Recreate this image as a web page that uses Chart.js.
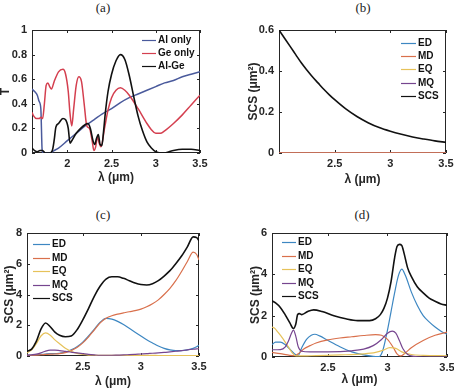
<!DOCTYPE html>
<html>
<head>
<meta charset="utf-8">
<script src="https://cdn.jsdelivr.net/npm/chart.js@4"></script>
<style>
  html, body { margin: 0; padding: 0; background: #fff; width: 454px; height: 388px; overflow: hidden; position: relative; }
  canvas { position: absolute; }
  .tag { position: absolute; transform: translate(-50%, -50%); font-family: "Liberation Serif", "DejaVu Serif", serif; font-size: 13px; color: #222; }
</style>
</head>
<body>
<div class="tag" style="left:103px;top:8px">(a)</div>
<div class="tag" style="left:363px;top:8px">(b)</div>
<div class="tag" style="left:103px;top:215px">(c)</div>
<div class="tag" style="left:362px;top:215px">(d)</div>
<canvas id="chartA" style="left:0;top:0;width:227px;height:190px" width="227" height="190"></canvas>
<canvas id="chartB" style="left:227px;top:0;width:237px;height:190px" width="237" height="190"></canvas>
<canvas id="chartC" style="left:0;top:190px;width:227px;height:198px" width="227" height="198"></canvas>
<canvas id="chartD" style="left:227px;top:190px;width:237px;height:198px" width="237" height="198"></canvas>
<script>
// ---- panel (a): transmission
const aTicksX = [2, 2.5, 3, 3.5];
const aTicksY = [0, 0.2, 0.4, 0.6, 0.8, 1];
const alOnlyX = [1.6, 1.63, 1.66, 1.68, 1.7, 1.715, 1.73, 1.8, 1.85, 1.9, 2.0, 2.1, 2.2, 2.3, 2.4, 2.5, 2.6, 2.7, 2.8, 2.9, 3.0, 3.1, 3.2, 3.3, 3.4, 3.5];
const alOnlyY = [0.52, 0.5, 0.47, 0.42, 0.36, 0.02, 0.0, 0.0, 0.02, 0.04, 0.1, 0.16, 0.22, 0.27, 0.32, 0.36, 0.41, 0.45, 0.48, 0.51, 0.54, 0.57, 0.59, 0.62, 0.64, 0.66];
const geOnlyX = [1.6, 1.62, 1.65, 1.68, 1.7, 1.72, 1.74, 1.76, 1.78, 1.8, 1.82, 1.85, 1.9, 1.95, 1.98, 2.01, 2.03, 2.05, 2.07, 2.1, 2.13, 2.16, 2.19, 2.22, 2.25, 2.28, 2.3, 2.32, 2.34, 2.36, 2.38, 2.42, 2.46, 2.5, 2.55, 2.6, 2.65, 2.7, 2.8, 2.9, 2.95, 3.0, 3.05, 3.1, 3.2, 3.3, 3.4, 3.5];
const geOnlyY = [0.33, 0.3, 0.28, 0.28, 0.29, 0.28, 0.4, 0.55, 0.57, 0.54, 0.52, 0.58, 0.66, 0.68, 0.64, 0.5, 0.32, 0.22, 0.35, 0.55, 0.62, 0.58, 0.4, 0.22, 0.2, 0.1, 0.02, 0.05, 0.13, 0.08, 0.05, 0.2, 0.35, 0.45, 0.51, 0.53, 0.51, 0.47, 0.36, 0.24, 0.19, 0.16, 0.16, 0.18, 0.24, 0.31, 0.39, 0.47];
const alGeX = [1.6, 1.63, 1.66, 1.69, 1.72, 1.75, 1.8, 1.83, 1.85, 1.87, 1.9, 1.95, 1.98, 2.01, 2.03, 2.05, 2.1, 2.15, 2.2, 2.23, 2.26, 2.29, 2.31, 2.33, 2.35, 2.37, 2.39, 2.41, 2.43, 2.46, 2.5, 2.55, 2.6, 2.65, 2.7, 2.75, 2.8, 2.85, 2.9, 2.95, 3.0, 3.05, 3.1, 3.15, 3.2, 3.3, 3.4, 3.5];
const alGeY = [0.04, 0.02, 0.01, 0.02, 0.02, 0.0, 0.0, 0.02, 0.1, 0.21, 0.24, 0.28, 0.27, 0.2, 0.08, 0.1, 0.16, 0.2, 0.23, 0.24, 0.2, 0.1, 0.07, 0.12, 0.15, 0.07, 0.06, 0.18, 0.33, 0.5, 0.64, 0.75, 0.8, 0.76, 0.63, 0.46, 0.3, 0.18, 0.09, 0.04, 0.01, 0.0, 0.0, 0.01, 0.02, 0.03, 0.03, 0.02];

// ---- panel (b)
const bTicksX = [2.5, 3, 3.5];
const bTicksY = [0, 0.2, 0.4, 0.6];
const bX = [2.0, 2.05, 2.1, 2.15, 2.2, 2.25, 2.3, 2.35, 2.4, 2.45, 2.5, 2.6, 2.7, 2.8, 2.9, 3.0, 3.1, 3.2, 3.3, 3.4, 3.5];
const bScs = [0.6, 0.56, 0.52, 0.48, 0.44, 0.405, 0.372, 0.342, 0.312, 0.285, 0.26, 0.215, 0.178, 0.148, 0.124, 0.106, 0.091, 0.078, 0.068, 0.059, 0.052];
const bZeroX = [2.0, 3.5];
const bZero = [0, 0];

// ---- panel (c)
const cTicksX = [2.5, 3, 3.5];
const cTicksY = [0, 2, 4, 6, 8];
const cX = [2.02, 2.06, 2.1, 2.14, 2.18, 2.22, 2.26, 2.3, 2.35, 2.4, 2.45, 2.5, 2.55, 2.6, 2.65, 2.7, 2.75, 2.8, 2.85, 2.9, 2.95, 3.0, 3.05, 3.1, 3.15, 3.2, 3.25, 3.3, 3.35, 3.4, 3.45, 3.48, 3.5];
const cScs = [0.3, 0.45, 0.95, 1.75, 2.15, 1.9, 1.55, 1.35, 1.25, 1.3, 1.7, 2.35, 3.1, 3.9, 4.55, 5.0, 5.15, 5.15, 5.05, 4.9, 4.75, 4.65, 4.62, 4.7, 4.9, 5.2, 5.55, 6.0, 6.5, 7.1, 7.75, 7.7, 7.5];
const cEd = [0.05, 0.06, 0.08, 0.1, 0.13, 0.15, 0.15, 0.18, 0.25, 0.4, 0.6, 0.9, 1.3, 1.75, 2.2, 2.45, 2.4, 2.25, 2.05, 1.8, 1.55, 1.3, 1.05, 0.85, 0.65, 0.5, 0.4, 0.35, 0.35, 0.4, 0.5, 0.6, 0.7];
const cMd = [0.05, 0.05, 0.06, 0.08, 0.1, 0.12, 0.13, 0.15, 0.22, 0.35, 0.55, 0.85, 1.25, 1.7, 2.15, 2.45, 2.62, 2.72, 2.8, 2.88, 2.95, 3.05, 3.2, 3.4, 3.65, 4.0, 4.4, 4.9, 5.5, 6.15, 6.75, 6.6, 6.25];
const cEq = [0.2, 0.4, 0.8, 1.3, 1.5, 1.35, 1.05, 0.8, 0.5, 0.3, 0.17, 0.1, 0.06, 0.05, 0.04, 0.04, 0.04, 0.04, 0.04, 0.04, 0.04, 0.04, 0.04, 0.04, 0.03, 0.03, 0.03, 0.03, 0.03, 0.03, 0.03, 0.03, 0.03];
const cMq = [0.05, 0.08, 0.12, 0.2, 0.32, 0.38, 0.38, 0.35, 0.3, 0.25, 0.2, 0.15, 0.1, 0.07, 0.05, 0.05, 0.05, 0.06, 0.07, 0.09, 0.11, 0.13, 0.15, 0.18, 0.2, 0.23, 0.27, 0.31, 0.35, 0.4, 0.44, 0.46, 0.48];

// ---- panel (d)
const dTicksX = [2.5, 3, 3.5];
const dTicksY = [0, 2, 4, 6];
const dScsX = [2.03, 2.06, 2.1, 2.14, 2.18, 2.21, 2.23, 2.245, 2.26, 2.28, 2.33, 2.38, 2.45, 2.55, 2.65, 2.75, 2.85, 2.9, 2.94, 2.97, 3.0, 3.03, 3.06, 3.08, 3.1, 3.12, 3.14, 3.17, 3.2, 3.25, 3.3, 3.35, 3.4, 3.45, 3.5];
const dScs = [2.72, 2.62, 2.4, 2.05, 1.65, 1.38, 1.6, 2.05, 2.1, 2.05, 2.2, 2.28, 2.2, 2.0, 1.85, 1.76, 1.76, 1.85, 2.05, 2.35, 2.85, 3.65, 4.8, 5.35, 5.45, 5.4, 5.0, 4.3, 3.9, 3.4, 3.1, 2.85, 2.7, 2.57, 2.5];
const dEdX = [2.03, 2.06, 2.1, 2.14, 2.18, 2.22, 2.25, 2.28, 2.32, 2.36, 2.39, 2.43, 2.5, 2.6, 2.7, 2.8, 2.88, 2.93, 2.96, 3.0, 3.03, 3.06, 3.09, 3.12, 3.15, 3.2, 3.25, 3.3, 3.35, 3.4, 3.45, 3.5];
const dEd = [0.6, 0.72, 0.72, 0.6, 0.38, 0.15, 0.08, 0.45, 0.85, 1.05, 1.1, 1.02, 0.8, 0.5, 0.25, 0.1, 0.03, 0.02, 0.3, 1.3, 2.2, 3.1, 3.9, 4.25, 3.95, 3.15, 2.5, 2.0, 1.7, 1.45, 1.25, 1.1];
const dMdX = [2.03, 2.1, 2.18, 2.22, 2.26, 2.3, 2.35, 2.4, 2.5, 2.6, 2.7, 2.8, 2.9, 2.95, 3.0, 3.05, 3.08, 3.11, 3.15, 3.2, 3.3, 3.4, 3.5];
const dMd = [0.22, 0.16, 0.08, 0.06, 0.2, 0.4, 0.55, 0.68, 0.83, 0.92, 0.98, 1.04, 1.08, 1.05, 0.85, 0.45, 0.15, 0.05, 0.2, 0.45, 0.8, 1.05, 1.2];
const dEqX = [2.03, 2.05, 2.08, 2.12, 2.16, 2.2, 2.23, 2.3, 2.4, 2.6, 2.8, 2.9, 2.96, 3.02, 3.07, 3.12, 3.2, 3.3, 3.5];
const dEq = [1.45, 1.4, 1.2, 0.9, 0.55, 0.2, 0.05, 0.05, 0.07, 0.1, 0.15, 0.22, 0.32, 0.45, 0.42, 0.25, 0.12, 0.08, 0.06];
const dMqX = [2.03, 2.1, 2.14, 2.17, 2.19, 2.21, 2.23, 2.25, 2.28, 2.35, 2.5, 2.7, 2.8, 2.88, 2.95, 3.0, 3.04, 3.07, 3.1, 3.13, 3.17, 3.22, 3.3, 3.5];
const dMq = [0.35, 0.36, 0.48, 0.8, 1.1, 1.3, 1.0, 0.5, 0.28, 0.25, 0.25, 0.3, 0.38, 0.55, 0.85, 1.15, 1.25, 1.15, 0.8, 0.4, 0.12, 0.03, 0.0, 0.0];

const axisColor = "#262626";
const colors = {
  al: "#4a5a9c",
  ge: "#d43f4f",
  scs: "#111111",
  ed: "#3d87c2",
  md: "#d9704c",
  eq: "#e6c25a",
  mq: "#76458f"
};

Chart.defaults.font.family = '"Liberation Sans", Arial, sans-serif';
Chart.defaults.color = axisColor;

function toPoints(xs, ys) {
  return xs.map((x, i) => ({ x, y: ys[i] }));
}

function makeDataset(label, xs, ys, color, width, order) {
  return {
    label,
    data: toPoints(xs, ys),
    borderColor: color,
    backgroundColor: color,
    borderWidth: width,
    pointRadius: 0,
    cubicInterpolationMode: "monotone",
    fill: false,
    order
  };
}

// MATLAB-like box with inward ticks on all sides (drawn under the curves)
const boxPlugin = {
  id: "matBox",
  beforeDatasetsDraw(chart) {
    const { ctx, chartArea: a, scales } = chart;
    ctx.save();
    ctx.strokeStyle = axisColor;
    ctx.lineWidth = 1;
    ctx.strokeRect(a.left + 0.5, a.top + 0.5, a.right - a.left - 1, a.bottom - a.top - 1);
    ctx.beginPath();
    scales.x.ticks.forEach(t => {
      const px = Math.round(scales.x.getPixelForValue(t.value)) + 0.5;
      ctx.moveTo(px, a.bottom); ctx.lineTo(px, a.bottom - 3);
      ctx.moveTo(px, a.top); ctx.lineTo(px, a.top + 3);
    });
    scales.y.ticks.forEach(t => {
      const py = Math.round(scales.y.getPixelForValue(t.value)) + 0.5;
      ctx.moveTo(a.left, py); ctx.lineTo(a.left + 3, py);
      ctx.moveTo(a.right, py); ctx.lineTo(a.right - 3, py);
    });
    ctx.stroke();
    ctx.restore();
  }
};

// legend drawn inside the axes
const innerLegendPlugin = {
  id: "innerLegend",
  afterDatasetsDraw(chart, args, opts) {
    const { ctx, chartArea: a } = chart;
    ctx.save();
    ctx.font = "bold 10px " + Chart.defaults.font.family;
    ctx.textBaseline = "middle";
    ctx.textAlign = "left";
    chart.data.datasets.forEach((ds, i) => {
      const y = Math.round(a.top + opts.y + i * opts.dy) + 0.5;
      const x0 = a.left + opts.x;
      ctx.strokeStyle = ds.borderColor;
      ctx.lineWidth = 1.2;
      ctx.beginPath();
      ctx.moveTo(x0, y);
      ctx.lineTo(x0 + opts.len, y);
      ctx.stroke();
      ctx.fillStyle = "#111";
      ctx.fillText(ds.label, x0 + opts.len + 2, y);
    });
    ctx.restore();
  }
};

function buildChart(id, panel) {
  const tickFont = { size: 11, weight: "bold" };
  return new Chart(document.getElementById(id), {
    type: "line",
    data: { datasets: panel.datasets },
    options: {
      responsive: false,
      animation: false,
      layout: { padding: panel.padding },
      plugins: {
        legend: { display: false },
        tooltip: { enabled: false },
        innerLegend: panel.legend
      },
      scales: {
        x: {
          type: "linear",
          min: panel.xMin,
          max: 3.5,
          afterBuildTicks: s => { s.ticks = panel.xTicks.map(v => ({ value: v })); },
          afterFit: s => { s.height = panel.xHeight; },
          grid: { display: false, drawTicks: false },
          border: { display: false },
          ticks: { font: tickFont, padding: 4, maxRotation: 0, autoSkip: false, callback: v => String(v) },
          title: { display: true, text: "λ (μm)", font: { size: 12, weight: "bold", lineHeight: 1 }, padding: { top: 0, bottom: panel.xTitlePad } }
        },
        y: {
          type: "linear",
          min: panel.yTicks[0],
          max: panel.yTicks[panel.yTicks.length - 1],
          afterBuildTicks: s => { s.ticks = panel.yTicks.map(v => ({ value: v })); },
          afterFit: s => { s.width = panel.yWidth; },
          grid: { display: false, drawTicks: false },
          border: { display: false },
          ticks: { font: tickFont, padding: 5, autoSkip: false, callback: v => String(v) },
          title: { display: true, text: panel.yTitle, font: { size: 12, weight: "bold", lineHeight: 1 }, padding: { top: panel.yTitlePad, bottom: 0 } }
        }
      }
    },
    plugins: [boxPlugin, innerLegendPlugin]
  });
}

buildChart("chartA", {
  datasets: [
    makeDataset("Al only", alOnlyX, alOnlyY, colors.al, 1.5, 3),
    makeDataset("Ge only", geOnlyX, geOnlyY, colors.ge, 1.5, 2),
    makeDataset("Al-Ge", alGeX, alGeY, colors.scs, 1.6, 1)
  ],
  padding: { top: 30, right: 27, left: 0, bottom: 0 },
  xMin: 1.6, xTicks: aTicksX, yTicks: aTicksY,
  xHeight: 37, yWidth: 32, xTitlePad: 6, yTitle: "T", yTitlePad: 0,
  legend: { x: 110, y: 10, dy: 13, len: 14 }
});

buildChart("chartB", {
  datasets: [
    makeDataset("ED", bZeroX, bZero, colors.ed, 1.2, 5),
    makeDataset("MD", bZeroX, bZero, colors.md, 1.4, 1),
    makeDataset("EQ", bZeroX, bZero, colors.eq, 1.2, 4),
    makeDataset("MQ", bZeroX, bZero, colors.mq, 1.2, 3),
    makeDataset("SCS", bX, bScs, colors.scs, 1.6, 0)
  ],
  padding: { top: 30, right: 18, left: 0, bottom: 0 },
  xMin: 2.0, xTicks: bTicksX, yTicks: bTicksY,
  xHeight: 37, yWidth: 52, xTitlePad: 4, yTitle: "SCS (μm²)", yTitlePad: 21,
  legend: { x: 122, y: 13, dy: 13.2, len: 15 }
});

buildChart("chartC", {
  datasets: [
    makeDataset("ED", cX, cEd, colors.ed, 1.2, 5),
    makeDataset("MD", cX, cMd, colors.md, 1.2, 4),
    makeDataset("EQ", cX, cEq, colors.eq, 1.2, 3),
    makeDataset("MQ", cX, cMq, colors.mq, 1.2, 2),
    makeDataset("SCS", cX, cScs, colors.scs, 1.6, 1)
  ],
  padding: { top: 43, right: 28, left: 0, bottom: 0 },
  xMin: 2.02, xTicks: cTicksX, yTicks: cTicksY,
  xHeight: 32, yWidth: 27, xTitlePad: 0, yTitle: "SCS (μm²)", yTitlePad: 4,
  legend: { x: 6, y: 11, dy: 13.5, len: 17 }
});

buildChart("chartD", {
  datasets: [
    makeDataset("ED", dEdX, dEd, colors.ed, 1.2, 5),
    makeDataset("MD", dMdX, dMd, colors.md, 1.2, 4),
    makeDataset("EQ", dEqX, dEq, colors.eq, 1.2, 3),
    makeDataset("MQ", dMqX, dMq, colors.mq, 1.2, 2),
    makeDataset("SCS", dScsX, dScs, colors.scs, 1.6, 1)
  ],
  padding: { top: 43, right: 17, left: 0, bottom: 0 },
  xMin: 2.03, xTicks: dTicksX, yTicks: dTicksY,
  xHeight: 31, yWidth: 45, xTitlePad: 2, yTitle: "SCS (μm²)", yTitlePad: 23,
  legend: { x: 10, y: 9, dy: 13.5, len: 14 }
});
</script>
</body>
</html>
